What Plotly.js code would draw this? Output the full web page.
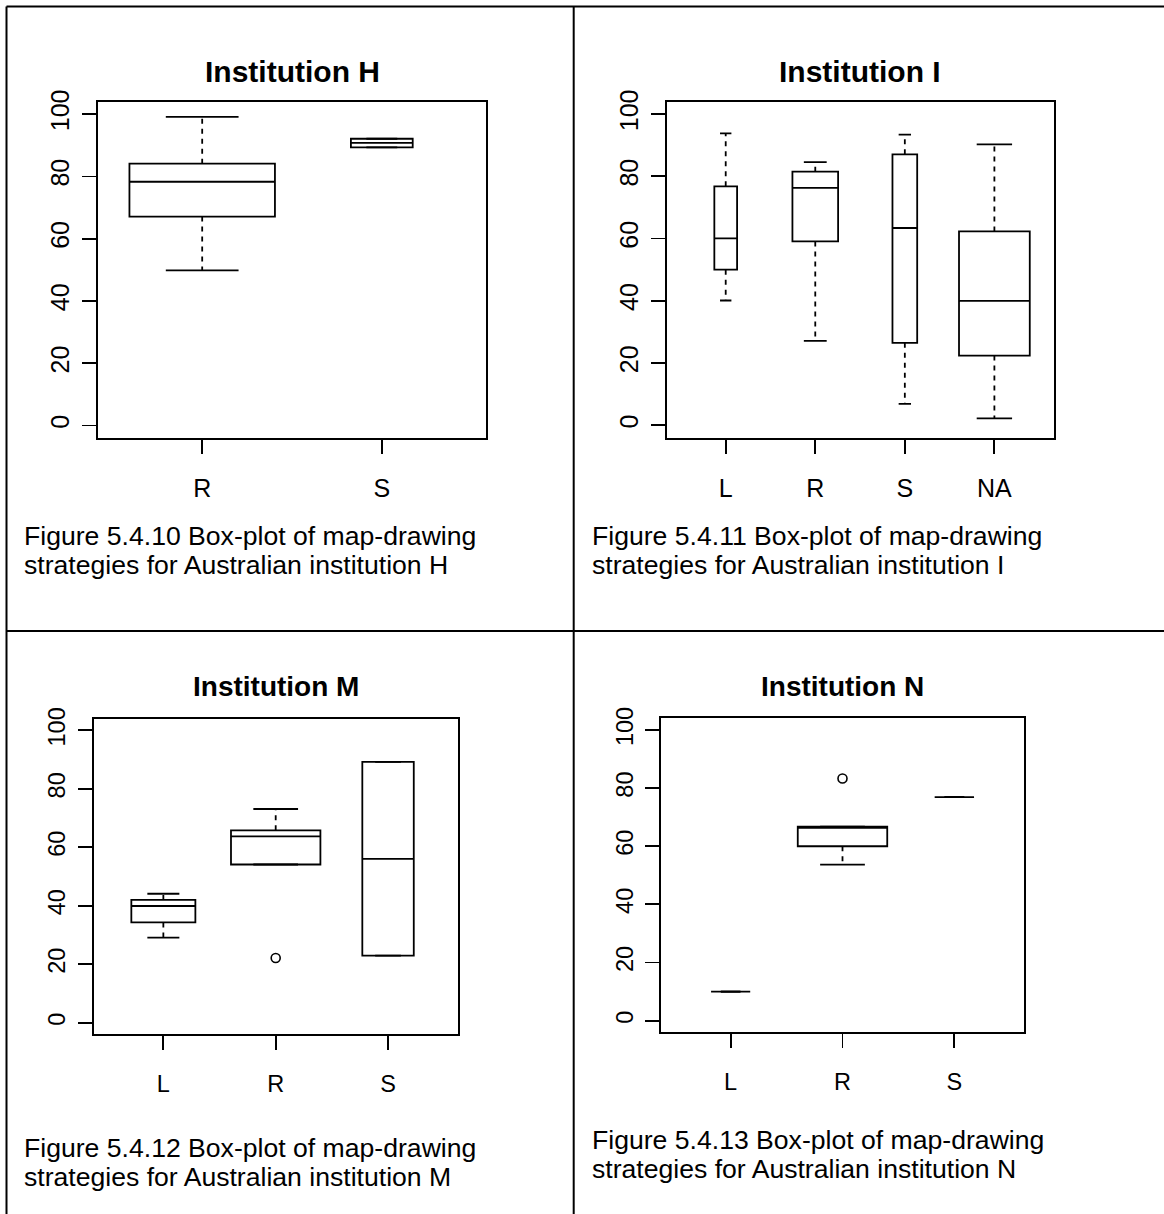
<!DOCTYPE html>
<html>
<head>
<meta charset="utf-8">
<script src="https://cdn.plot.ly/plotly-3.0.1.min.js"></script>
<style>
  html, body { margin: 0; padding: 0; background: #ffffff; }
  #chart { width: 1164px; height: 1214px; }
</style>
</head>
<body>
<div id="chart"></div>
<script>
// ---- Institution H ----
const hCategories = ['R', 'S'];
const hLower  = [49.8, 89.3];
const hQ1     = [67.1, 89.3];
const hMedian = [78.3, 90.8];
const hQ3     = [84.1, 92.1];
const hUpper  = [99.1, 92.1];
const hOutlierCats = [];
const hOutlierVals = [];

// ---- Institution I ----
const iCategories = ['L', 'R', 'S', 'NA'];
const iLower  = [40.1, 27.1, 6.9, 2.2];
const iQ1     = [50.0, 59.1, 26.5, 22.4];
const iMedian = [60.1, 76.3, 63.4, 40.0];
const iQ3     = [76.8, 81.5, 87.1, 62.3];
const iUpper  = [93.8, 84.6, 93.4, 90.3];
const iOutlierCats = [];
const iOutlierVals = [];

// ---- Institution M ----
const mCategories = ['L', 'R', 'S'];
const mLower  = [29.1, 54.1, 22.9];
const mQ1     = [34.3, 54.1, 22.9];
const mMedian = [39.9, 63.7, 56.0];
const mQ3     = [42.0, 65.8, 89.2];
const mUpper  = [44.1, 73.1, 89.2];
const mOutlierCats = ['R'];
const mOutlierVals = [22.1];

// ---- Institution N ----
const nCategories = ['L', 'R', 'S'];
const nLower  = [10.0, 53.7, 76.9];
const nQ1     = [10.0, 60.0, 76.9];
const nMedian = [10.0, 66.7, 76.9];
const nQ3     = [10.0, 66.7, 76.9];
const nUpper  = [10.0, 66.7, 76.9];
const nOutlierCats = ['R'];
const nOutlierVals = [83.3];

const yTicks = [0, 20, 40, 60, 80, 100];

// ---- styling: box widths (variable width boxes), in category units ----
const hBoxWidths = [0.81, 0.344];
const iBoxWidths = [0.254, 0.51, 0.276, 0.79];
const mBoxWidths = [0.57, 0.796, 0.458];
const nBoxWidths = [0.35, 0.8, 0.352];

const W = 1164, H = 1214;
const FONT = 'Liberation Sans, Arial, Helvetica, sans-serif';

// plot frames in page pixels: [left, top, right, bottom]
const frames = [
  [98, 101.7, 486, 438],
  [666.6, 101.7, 1053.5, 437.7],
  [93.7, 718.7, 457.7, 1034.3],
  [661.3, 718.3, 1023.7, 1032.3]
];
const titleText = ['Institution H', 'Institution I', 'Institution M', 'Institution N'];
const titleY = [72, 72, 686, 686];
const axisFont = [25, 25, 23.5, 23.5];
const titleFont = [30, 30, 28, 28];
const captionX = [22, 590, 22, 590];
const captionY = [[536, 565], [536, 565], [1148, 1177], [1140, 1169]];
const captionLine1 = [
  'Figure 5.4.10 Box-plot of map-drawing',
  'Figure 5.4.11 Box-plot of map-drawing',
  'Figure 5.4.12 Box-plot of map-drawing',
  'Figure 5.4.13 Box-plot of map-drawing'
];
const captionLine2 = [
  'strategies for Australian institution H',
  'strategies for Australian institution I',
  'strategies for Australian institution M',
  'strategies for Australian institution N'
];

const traces = [];
const layout = {
  width: W, height: H,
  margin: {l: 0, r: 0, t: 0, b: 0, pad: 0},
  paper_bgcolor: '#ffffff', plot_bgcolor: 'rgba(0,0,0,0)',
  showlegend: false,
  boxmode: 'overlay',
  annotations: [],
  shapes: []
};

function addPanel(k, cats, lower, q1, med, q3, upper, outCats, outVals, widths) {
  const xa = k === 0 ? 'x' : 'x' + (k + 1);
  const ya = k === 0 ? 'y' : 'y' + (k + 1);
  const pos = cats.map((c, i) => i + 1);
  const lineW = 1.8;

  cats.forEach((c, i) => {
    traces.push({
      type: 'box', xaxis: xa, yaxis: ya,
      x: [pos[i]], q1: [q1[i]], median: [med[i]], q3: [q3[i]],
      lowerfence: [q1[i]], upperfence: [q3[i]],
      width: widths[i], whiskerwidth: 0,
      fillcolor: 'rgba(0,0,0,0)',
      line: {color: '#000000', width: lineW},
      boxpoints: false, hoverinfo: 'skip', showlegend: false
    });
  });

  // dashed whiskers
  const wx = [], wy = [];
  cats.forEach((c, i) => {
    if (upper[i] > q3[i]) { wx.push(pos[i], pos[i], null); wy.push(q3[i], upper[i], null); }
    if (lower[i] < q1[i]) { wx.push(pos[i], pos[i], null); wy.push(q1[i], lower[i], null); }
  });
  traces.push({
    type: 'scatter', mode: 'lines', xaxis: xa, yaxis: ya,
    x: wx, y: wy, line: {color: '#000000', width: lineW, dash: '5px,5px'},
    hoverinfo: 'skip', showlegend: false
  });

  // staples at whisker ends
  const sx = [], sy = [];
  cats.forEach((c, i) => {
    const hw = widths[i] / 4;
    sx.push(pos[i] - hw, pos[i] + hw, null, pos[i] - hw, pos[i] + hw, null);
    sy.push(upper[i], upper[i], null, lower[i], lower[i], null);
  });
  traces.push({
    type: 'scatter', mode: 'lines', xaxis: xa, yaxis: ya,
    x: sx, y: sy, line: {color: '#000000', width: lineW},
    hoverinfo: 'skip', showlegend: false
  });

  // outliers
  if (outVals.length) {
    traces.push({
      type: 'scatter', mode: 'markers', xaxis: xa, yaxis: ya,
      x: outCats.map(c => cats.indexOf(c) + 1), y: outVals,
      marker: {symbol: 'circle-open', size: 9, color: '#000000', line: {width: 1.6}},
      hoverinfo: 'skip', showlegend: false
    });
  }

  const f = frames[k];
  const n = cats.length;
  const ext = 0.5 + 0.04 * n;
  const tickFont = {family: FONT, size: axisFont[k], color: '#000000'};
  layout[k === 0 ? 'xaxis' : 'xaxis' + (k + 1)] = {
    domain: [f[0] / W, f[2] / W],
    range: [1 - ext, n + ext],
    anchor: ya,
    tickmode: 'array', tickvals: pos, ticktext: cats,
    ticks: 'outside', ticklen: 14, tickwidth: 1.8, tickcolor: '#000000',
    ticklabelstandoff: 13,
    showline: true, mirror: true, linecolor: '#000000', linewidth: 2,
    showgrid: false, zeroline: false, fixedrange: true,
    tickfont: tickFont
  };
  layout[k === 0 ? 'yaxis' : 'yaxis' + (k + 1)] = {
    domain: [1 - f[3] / H, 1 - f[1] / H],
    range: [-4, 104],
    anchor: xa,
    tickmode: 'array', tickvals: yTicks, ticktext: yTicks.map(String),
    tickangle: -90,
    ticks: 'outside', ticklen: 14, tickwidth: 1.8, tickcolor: '#000000',
    ticklabelstandoff: 3,
    showline: true, mirror: true, linecolor: '#000000', linewidth: 2,
    showgrid: false, zeroline: false, fixedrange: true,
    tickfont: tickFont
  };

  layout.annotations.push({
    xref: 'paper', yref: 'paper',
    x: (f[0] + f[2]) / 2 / W, y: 1 - titleY[k] / H,
    xanchor: 'center', yanchor: 'middle', showarrow: false,
    text: '<b>' + titleText[k] + '</b>',
    font: {family: FONT, size: titleFont[k], color: '#000000'}
  });
  [captionLine1[k], captionLine2[k]].forEach((t, j) => {
    layout.annotations.push({
      xref: 'paper', yref: 'paper',
      x: captionX[k] / W, y: 1 - captionY[k][j] / H,
      xanchor: 'left', yanchor: 'middle', showarrow: false,
      text: t,
      font: {family: FONT, size: 26.6, color: '#000000'}
    });
  });
}

addPanel(0, hCategories, hLower, hQ1, hMedian, hQ3, hUpper, hOutlierCats, hOutlierVals, hBoxWidths);
addPanel(1, iCategories, iLower, iQ1, iMedian, iQ3, iUpper, iOutlierCats, iOutlierVals, iBoxWidths);
addPanel(2, mCategories, mLower, mQ1, mMedian, mQ3, mUpper, mOutlierCats, mOutlierVals, mBoxWidths);
addPanel(3, nCategories, nLower, nQ1, nMedian, nQ3, nUpper, nOutlierCats, nOutlierVals, nBoxWidths);

// table grid framing the four figures
const gridLine = {color: '#000000', width: 2};
layout.shapes.push(
  {type: 'line', xref: 'paper', yref: 'paper', x0: 6.5 / W, x1: 1, y0: 1 - 6.5 / H, y1: 1 - 6.5 / H, line: gridLine},
  {type: 'line', xref: 'paper', yref: 'paper', x0: 6.5 / W, x1: 1, y0: 1 - 631 / H, y1: 1 - 631 / H, line: gridLine},
  {type: 'line', xref: 'paper', yref: 'paper', x0: 6.5 / W, x1: 6.5 / W, y0: 0, y1: 1 - 6.5 / H, line: gridLine},
  {type: 'line', xref: 'paper', yref: 'paper', x0: 573.7 / W, x1: 573.7 / W, y0: 0, y1: 1 - 6.5 / H, line: gridLine}
);

Plotly.newPlot('chart', traces, layout, {displayModeBar: false, staticPlot: true});
</script>
</body>
</html>
